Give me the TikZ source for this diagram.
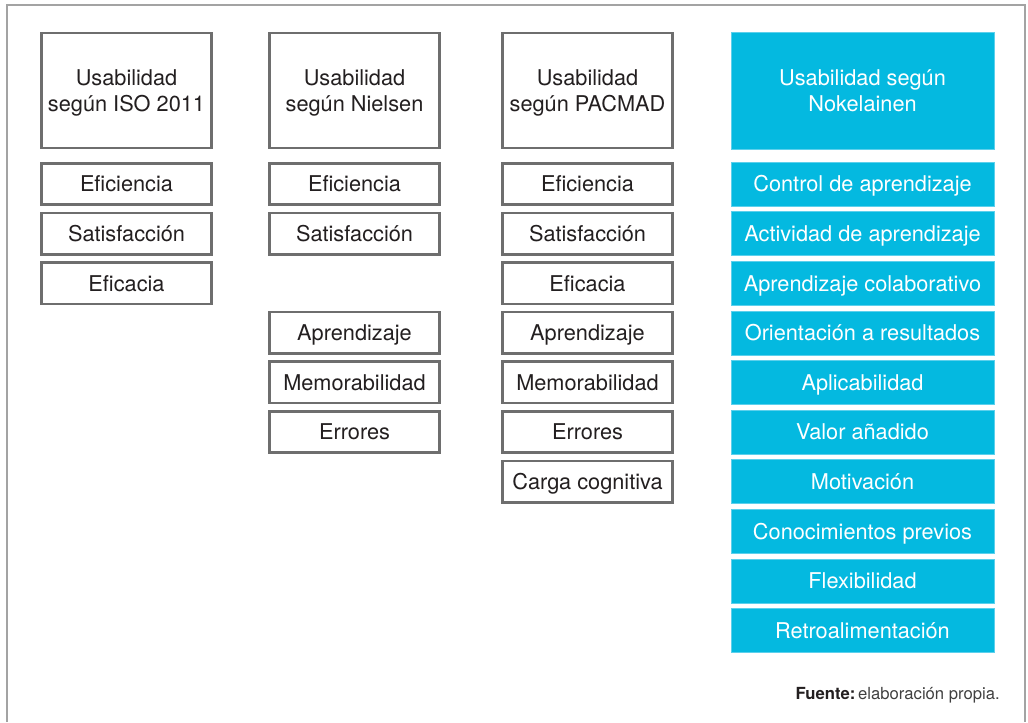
\documentclass[tikz,border=0pt]{standalone}
\usepackage{fontspec}
\setmainfont{TeX Gyre Heros}
\definecolor{boxgray}{HTML}{6E6E6E}
\definecolor{framegray}{HTML}{A3A3A3}
\definecolor{textgray}{HTML}{231F20}
\definecolor{nokcyan}{HTML}{04B9E0}
\definecolor{nokedge}{HTML}{5CD0EC}
\begin{document}
\begin{tikzpicture}[x=0.75pt,y=-0.75pt,
  item/.style={draw=boxgray, line width=1.9pt, fill=white, text=textgray,
    minimum width=127.5pt, minimum height=31pt, inner sep=0pt,
    text height=11.7pt, text depth=0pt,
    font=\fontsize{16.3}{19.5}\selectfont},
  head/.style={draw=boxgray, line width=1.9pt, fill=white, text=textgray,
    minimum width=127.5pt, minimum height=86pt, inner sep=0pt, align=center,
    text depth=0pt, font=\fontsize{16.3}{19.5}\selectfont},
  citem/.style={draw=nokedge, line width=0.4pt, fill=nokcyan, text=white,
    minimum width=197pt, minimum height=33pt, inner sep=0pt,
    text height=11.7pt, text depth=0pt,
    font=\fontsize{16.3}{19.5}\selectfont},
  chead/.style={draw=nokedge, line width=0.4pt, fill=nokcyan, text=white,
    minimum width=197pt, minimum height=87.75pt, inner sep=0pt, align=center,
    font=\fontsize{16.3}{19.5}\selectfont}]
\useasboundingbox (0,0) rectangle (1028,722);

% Rahmen
\draw[framegray, line width=1.5pt] (6.5,722) -- (6.5,5) -- (1025,5) -- (1025,722);

% ISO 2011
\node[head] (iso)     at (126.5, 90.5) {Usabilidad\\según ISO 2011};
\node[item] (isoEfi)  at (126.5,184)   {Eficiencia};
\node[item] (isoSat)  at (126.5,233.6) {Satisfacción};
\node[item] (isoEfc)  at (126.5,283.2) {Eficacia};

% Nielsen
\node[head] (niel)    at (354.5, 90.5) {Usabilidad\\según Nielsen};
\node[item] (nielEfi) at (354.5,184)   {Eficiencia};
\node[item] (nielSat) at (354.5,233.6) {Satisfacción};
\node[item] (nielApr) at (354.5,332.8) {Aprendizaje};
\node[item] (nielMem) at (354.5,382.4) {Memorabilidad};
\node[item] (nielErr) at (354.5,432)   {Errores};

% PACMAD
\node[head] (pac)     at (587.5, 90.5) {Usabilidad\\según PACMAD};
\node[item] (pacEfi)  at (587.5,184)   {Eficiencia};
\node[item] (pacSat)  at (587.5,233.6) {Satisfacción};
\node[item] (pacEfc)  at (587.5,283.2) {Eficacia};
\node[item] (pacApr)  at (587.5,332.8) {Aprendizaje};
\node[item] (pacMem)  at (587.5,382.4) {Memorabilidad};
\node[item] (pacErr)  at (587.5,432)   {Errores};
\node[item] (pacCar)  at (587.5,481.6) {Carga cognitiva};

% Nokelainen
\node[chead] (nok)    at (862.5, 90.5) {Usabilidad según\\Nokelainen};
\node[citem] (nokCon) at (862.5,184)   {Control de aprendizaje};
\node[citem] (nokAct) at (862.5,233.6) {Actividad de aprendizaje};
\node[citem] (nokCol) at (862.5,283.2) {Aprendizaje colaborativo};
\node[citem] (nokOri) at (862.5,332.8) {Orientación a resultados};
\node[citem] (nokApl) at (862.5,382.4) {Aplicabilidad};
\node[citem] (nokVal) at (862.5,432)   {Valor añadido};
\node[citem] (nokMot) at (862.5,481.6) {Motivación};
\node[citem] (nokPre) at (862.5,531.2) {Conocimientos previos};
\node[citem] (nokFle) at (862.5,580.8) {Flexibilidad};
\node[citem] (nokRet) at (862.5,630.4) {Retroalimentación};

% Quelle
\node[anchor=base east, inner sep=0pt, font=\fontsize{12.5}{15}\selectfont, text=textgray]
  (fuente) at (1000,699) {\textbf{Fuente:}\,\textcolor{black!75}{elaboración propia.}};
\end{tikzpicture}
\end{document}
